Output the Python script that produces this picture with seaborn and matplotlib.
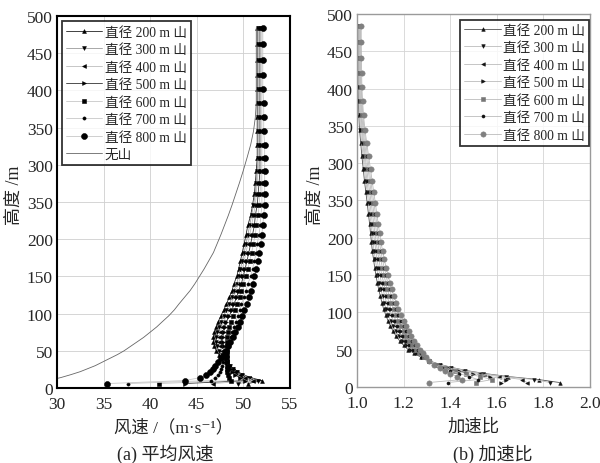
import numpy as np
import pandas as pd
import matplotlib
matplotlib.use("Agg")
import matplotlib.pyplot as plt
import seaborn as sns

# ---------------- data ----------------
heights = [6, 10, 14, 18, 22, 26, 30, 35, 40, 45, 50, 56, 62, 68, 75, 82, 89, 97, 105, 113,
           122, 131, 140, 150, 160, 171, 182, 194, 206, 219, 232, 246, 261, 276, 292, 309,
           327, 345, 364, 383, 402, 421, 441, 462, 484]

# (a) mean wind speed, m/s
no_hill_speed = [27.0, 29.0, 30.4, 31.5, 32.5, 33.3, 34.1, 34.9, 35.7, 36.5, 37.2, 37.9, 38.6,
                 39.3, 40.0, 40.7, 41.3, 42.0, 42.6, 43.1, 43.7, 44.3, 44.8, 45.3, 45.8, 46.3,
                 46.8, 47.2, 47.6, 48.0, 48.4, 48.8, 49.2, 49.6, 50.0, 50.4, 50.8, 51.1, 51.3,
                 51.4, 51.4, 51.4, 51.4, 51.4, 51.4]
speed_200 = [50.5, 52.0, 50.8, 50.0, 49.4, 49.0, 48.6, 48.2, 47.8, 47.4, 47.1, 46.9, 46.8, 46.8,
             46.9, 47.1, 47.3, 47.6, 47.9, 48.2, 48.5, 48.8, 49.0, 49.3, 49.5, 49.7, 49.9, 50.1,
             50.3, 50.5, 50.8, 51.0, 51.2, 51.3, 51.4, 51.5, 51.5, 51.5, 51.5, 51.5, 51.5, 51.5,
             51.5, 51.5, 51.5]
speed_300 = [49.4, 51.6, 50.6, 49.9, 49.3, 48.9, 48.6, 48.3, 48.0, 47.7, 47.4, 47.2, 47.1, 47.1,
             47.2, 47.4, 47.6, 47.9, 48.2, 48.5, 48.8, 49.0, 49.3, 49.5, 49.7, 49.9, 50.1, 50.3,
             50.5, 50.7, 50.9, 51.1, 51.3, 51.4, 51.5, 51.6, 51.6, 51.6, 51.6, 51.6, 51.6, 51.6,
             51.6, 51.6, 51.6]
speed_400 = [46.7, 51.1, 50.2, 49.6, 49.1, 48.8, 48.5, 48.3, 48.1, 47.9, 47.7, 47.5, 47.4, 47.4,
             47.5, 47.7, 47.9, 48.2, 48.5, 48.7, 49.0, 49.2, 49.5, 49.7, 49.9, 50.1, 50.3, 50.5,
             50.7, 50.9, 51.1, 51.3, 51.4, 51.5, 51.6, 51.7, 51.7, 51.7, 51.7, 51.7, 51.7, 51.7,
             51.7, 51.7, 51.7]
speed_500 = [43.7, 50.2, 49.6, 49.1, 48.8, 48.6, 48.4, 48.3, 48.2, 48.1, 48.0, 47.9, 47.8, 47.8,
             47.9, 48.0, 48.2, 48.5, 48.8, 49.0, 49.3, 49.5, 49.8, 50.0, 50.2, 50.4, 50.6, 50.8,
             51.0, 51.2, 51.3, 51.5, 51.6, 51.7, 51.8, 51.8, 51.8, 51.8, 51.8, 51.8, 51.8, 51.8,
             51.8, 51.8, 51.8]
speed_600 = [41.0, 48.7, 48.5, 48.4, 48.3, 48.3, 48.3, 48.3, 48.3, 48.3, 48.3, 48.3, 48.3, 48.3,
             48.4, 48.5, 48.7, 48.9, 49.1, 49.3, 49.6, 49.8, 50.0, 50.3, 50.5, 50.7, 50.9, 51.1,
             51.3, 51.4, 51.6, 51.7, 51.8, 51.9, 51.9, 51.9, 51.9, 51.9, 51.9, 51.9, 51.9, 51.9,
             51.9, 51.9, 51.9]
speed_700 = [37.6, 46.5, 47.0, 47.3, 47.5, 47.6, 47.7, 47.8, 48.0, 48.2, 48.3, 48.5, 48.6, 48.7,
             48.8, 49.0, 49.2, 49.4, 49.6, 49.8, 50.1, 50.3, 50.5, 50.8, 51.0, 51.2, 51.4, 51.5,
             51.7, 51.8, 51.9, 52.0, 52.0, 52.0, 52.0, 52.0, 52.0, 52.0, 52.0, 52.0, 52.0, 52.0,
             52.0, 52.0, 52.0]
speed_800 = [35.4, 43.7, 45.4, 46.0, 46.4, 46.7, 47.0, 47.3, 47.6, 47.9, 48.1, 48.4, 48.6, 48.9,
             49.1, 49.4, 49.6, 49.9, 50.1, 50.4, 50.6, 50.8, 51.0, 51.2, 51.4, 51.6, 51.7, 51.9,
             52.0, 52.1, 52.2, 52.3, 52.3, 52.3, 52.3, 52.3, 52.3, 52.2, 52.2, 52.2, 52.1, 52.1,
             52.1, 52.1, 52.1]

# (b) speed-up ratio
ratio_200 = [1.87, 1.78, 1.65, 1.55, 1.47, 1.41, 1.36, 1.31, 1.275, 1.245, 1.22, 1.20, 1.183,
             1.168, 1.155, 1.143, 1.133, 1.123, 1.114, 1.107, 1.100, 1.093, 1.087, 1.081, 1.076,
             1.071, 1.066, 1.062, 1.058, 1.054, 1.049, 1.044, 1.038, 1.032, 1.027, 1.021, 1.016,
             1.011, 1.008, 1.006, 1.005, 1.005, 1.005, 1.005, 1.005]
ratio_300 = [1.83, 1.76, 1.64, 1.54, 1.465, 1.405, 1.355, 1.31, 1.276, 1.248, 1.228, 1.210, 1.193,
             1.179, 1.166, 1.154, 1.144, 1.134, 1.125, 1.117, 1.110, 1.102, 1.096, 1.090, 1.084,
             1.079, 1.073, 1.069, 1.064, 1.060, 1.055, 1.050, 1.044, 1.038, 1.032, 1.026, 1.020,
             1.015, 1.011, 1.009, 1.008, 1.008, 1.007, 1.007, 1.007]
ratio_400 = [1.73, 1.71, 1.61, 1.525, 1.455, 1.40, 1.352, 1.31, 1.279, 1.254, 1.237, 1.219, 1.204,
             1.190, 1.177, 1.166, 1.155, 1.145, 1.135, 1.127, 1.119, 1.112, 1.105, 1.098, 1.092,
             1.086, 1.081, 1.076, 1.071, 1.066, 1.061, 1.056, 1.049, 1.043, 1.037, 1.031, 1.025,
             1.019, 1.015, 1.012, 1.010, 1.010, 1.010, 1.009, 1.009]
ratio_500 = [1.62, 1.64, 1.57, 1.50, 1.44, 1.39, 1.347, 1.31, 1.283, 1.262, 1.245, 1.229, 1.214,
             1.201, 1.189, 1.177, 1.167, 1.156, 1.146, 1.138, 1.129, 1.121, 1.114, 1.107, 1.100,
             1.094, 1.088, 1.082, 1.077, 1.072, 1.067, 1.061, 1.055, 1.048, 1.042, 1.035, 1.029,
             1.022, 1.018, 1.015, 1.013, 1.012, 1.012, 1.011, 1.011]
ratio_600 = [1.51, 1.58, 1.53, 1.47, 1.42, 1.378, 1.341, 1.31, 1.287, 1.268, 1.253, 1.238, 1.224,
             1.212, 1.200, 1.188, 1.178, 1.167, 1.157, 1.148, 1.139, 1.130, 1.123, 1.116, 1.109,
             1.102, 1.095, 1.089, 1.084, 1.079, 1.073, 1.067, 1.061, 1.054, 1.048, 1.040, 1.033,
             1.026, 1.021, 1.018, 1.016, 1.015, 1.014, 1.014, 1.014]
ratio_700 = [1.39, 1.52, 1.48, 1.44, 1.40, 1.366, 1.336, 1.31, 1.291, 1.275, 1.262, 1.248, 1.235,
             1.223, 1.211, 1.200, 1.189, 1.178, 1.167, 1.158, 1.148, 1.140, 1.132, 1.124, 1.117,
             1.109, 1.103, 1.096, 1.090, 1.085, 1.079, 1.073, 1.066, 1.059, 1.053, 1.045, 1.038,
             1.030, 1.025, 1.021, 1.018, 1.017, 1.017, 1.016, 1.016]
ratio_800 = [1.31, 1.45, 1.43, 1.40, 1.38, 1.355, 1.33, 1.31, 1.295, 1.282, 1.27, 1.257, 1.245,
             1.234, 1.222, 1.211, 1.200, 1.189, 1.178, 1.168, 1.158, 1.149, 1.141, 1.133, 1.125,
             1.117, 1.110, 1.103, 1.097, 1.091, 1.085, 1.079, 1.072, 1.065, 1.058, 1.050, 1.042,
             1.034, 1.028, 1.024, 1.021, 1.020, 1.019, 1.018, 1.018]

hill_labels = ["直径 200 m 山", "直径 300 m 山", "直径 400 m 山", "直径 500 m 山",
               "直径 600 m 山", "直径 700 m 山", "直径 800 m 山"]
no_hill_label = "无山"
speeds = [speed_200, speed_300, speed_400, speed_500, speed_600, speed_700, speed_800]
ratios = [ratio_200, ratio_300, ratio_400, ratio_500, ratio_600, ratio_700, ratio_800]

y_ticks = [0, 50, 100, 150, 200, 250, 300, 350, 400, 450, 500]
y_tick_labels = ["0", "50", "100", "150", "200", "350", "300", "350", "400", "450", "500"]
x_ticks_a = [30, 35, 40, 45, 50, 55]
x_ticks_b = [1.0, 1.2, 1.4, 1.6, 1.8, 2.0]
x_tick_labels_b = ["1.0", "1.2", "1.4", "1.6", "1.8", "2.0"]

# ---------------- styles ----------------
markers = ["^", "v", "<", ">", "s", "o", "o"]
msize_a = [2.8, 2.8, 2.8, 2.8, 2.8, 2.3, 4.3]
line_col_a = ["#222222", "#9a9a9a", "#bdbdbd", "#333333", "#c8c8c8", "#c8c8c8", "#c8c8c8"]
mark_col_b = ["#111111", "#111111", "#111111", "#111111", "#777777", "#111111", "#808080"]
msize_b = [2.6, 2.6, 2.6, 2.6, 3.0, 2.2, 3.8]
line_col_b = ["#555555", "#bbbbbb", "#bbbbbb", "#bbbbbb", "#bbbbbb", "#bbbbbb", "#bbbbbb"]

sns.set_style("white")
plt.rcParams["font.family"] = ["Liberation Serif", "Noto Sans CJK SC", "DejaVu Sans"]
plt.rcParams["axes.unicode_minus"] = False

fig = plt.figure(figsize=(6.0, 4.64), dpi=100)
ax1 = fig.add_axes([0.095, 0.1616, 0.388, 0.802])
ax2 = fig.add_axes([0.595, 0.1638, 0.388, 0.804])

h = np.array(heights, dtype=float)

# ---- (a) mean wind speed ----
for i, lab in enumerate(hill_labels):
    df = pd.DataFrame({"speed": speeds[i], "height": h})
    sns.lineplot(data=df, x="speed", y="height", ax=ax1, sort=False, estimator=None,
                 color=line_col_a[i], linewidth=0.6, marker=markers[i],
                 markersize=msize_a[i], markerfacecolor="black", markeredgecolor="black",
                 markeredgewidth=0.4, label=lab, legend=False)
df0 = pd.DataFrame({"speed": no_hill_speed, "height": h})
sns.lineplot(data=df0, x="speed", y="height", ax=ax1, sort=False, estimator=None,
             color="#666666", linewidth=0.6, label=no_hill_label, legend=False)

ax1.set_xlim(30, 55)
ax1.set_ylim(0, 500)
ax1.set_xticks(x_ticks_a)
ax1.set_xticklabels([str(t) for t in x_ticks_a])
ax1.set_yticks(y_ticks)
ax1.set_yticklabels(y_tick_labels)
ax1.grid(True, color="#cfcfcf", linewidth=0.6)
for s in ax1.spines.values():
    s.set_color("black")
    s.set_linewidth(1.5)
ax1.set_xlabel("风速 /（m·s⁻¹）", fontsize=12.5)
ax1.set_ylabel("高度 /m", fontsize=13)
ax1.xaxis.set_label_coords(0.5, -0.083)
ax1.yaxis.set_label_coords(-0.146, 0.52)
leg1 = ax1.legend(loc="upper left", bbox_to_anchor=(0.02, 0.985), fontsize=9.8,
                  frameon=True, fancybox=False, handlelength=2.7, labelspacing=0.33,
                  borderpad=0.3, handletextpad=0.15, borderaxespad=0.0)
leg1.get_frame().set_edgecolor("black")
leg1.get_frame().set_linewidth(1.3)

# ---- (b) speed-up ratio ----
for i, lab in enumerate(hill_labels):
    df = pd.DataFrame({"ratio": ratios[i], "height": h})
    sns.lineplot(data=df, x="ratio", y="height", ax=ax2, sort=False, estimator=None,
                 color=line_col_b[i], linewidth=0.6, marker=markers[i],
                 markersize=msize_b[i], markerfacecolor=mark_col_b[i],
                 markeredgecolor=mark_col_b[i], markeredgewidth=0.4, label=lab, legend=False)

ax2.set_xlim(1.0, 2.0)
ax2.set_ylim(0, 500)
ax2.set_xticks(x_ticks_b)
ax2.set_xticklabels(x_tick_labels_b)
ax2.set_yticks(y_ticks)
ax2.set_yticklabels(y_tick_labels)
ax2.grid(True, color="#d5d5d5", linewidth=0.6)
for s in ax2.spines.values():
    s.set_color("#9a9a9a")
    s.set_linewidth(1.0)
ax2.set_xlabel("加速比", fontsize=12.5)
ax2.set_ylabel("高度 /m", fontsize=13)
ax2.xaxis.set_label_coords(0.5, -0.083)
ax2.yaxis.set_label_coords(-0.142, 0.517)
leg2 = ax2.legend(loc="upper right", bbox_to_anchor=(0.997, 0.985), fontsize=9.8,
                  frameon=True, fancybox=False, handlelength=2.7, labelspacing=0.33,
                  borderpad=0.3, handletextpad=0.15, borderaxespad=0.0)
leg2.get_frame().set_edgecolor("black")
leg2.get_frame().set_linewidth(1.3)

for ax in (ax1, ax2):
    ax.tick_params(axis="y", length=0, labelsize=12.5, pad=3.0)
    ax.tick_params(axis="x", length=0, labelsize=12.5, pad=6.0)

fig.text(165 / 600, 1 - 454 / 464, "(a) 平均风速", ha="center", va="center", fontsize=13)
fig.text(493 / 600, 1 - 454 / 464, "(b) 加速比", ha="center", va="center", fontsize=13)

fig.savefig("out.png", dpi=100)
